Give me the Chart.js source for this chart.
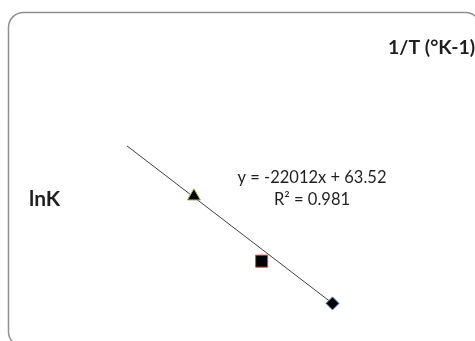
<!DOCTYPE html>
<html>
<head>
<meta charset="utf-8">
<script src="https://cdn.jsdelivr.net/npm/chart.js@4/dist/chart.umd.min.js"></script>
<style>
  html, body { margin: 0; padding: 0; background: #fff; overflow: hidden; }
  #wrap { position: relative; width: 475px; height: 341px; }
</style>
</head>
<body>
<div id="wrap"><canvas id="c" width="475" height="341"></canvas></div>
<script>
// Data (x = 1/T, y = lnK)
const seriesNames = ['Series 1', 'Series 2', 'Series 3'];
const invT = [0.002919, 0.003006, 0.003097];
const lnK = [-0.70, -3.10, -4.66];
const trendX = [0.002833, 0.003097];
const trendY = [1.16, -4.66];
const equationText = 'y = -22012x + 63.52';
const r2Text = 'R² = 0.981';
const yTitle = 'lnK';
const xTitle = '1/T (°K-1)';

const markerStyles = ['triangle', 'rect', 'rectRot'];
const markerBorders = ['#9BBB59', '#C0504D', '#4F81BD'];
const markerRadius = [7.5, 8.5, 6.5];

const datasets = invT.map((x, i) => ({
  label: seriesNames[i],
  data: [{ x: x, y: lnK[i] }],
  pointStyle: markerStyles[i],
  pointRadius: markerRadius[i],
  pointBackgroundColor: '#000000',
  pointBorderColor: markerBorders[i],
  pointBorderWidth: 1,
  showLine: false,
  order: 0
}));
datasets.push({
  label: 'Trend',
  data: trendX.map((x, i) => ({ x: x, y: trendY[i] })),
  showLine: true,
  borderColor: '#404040',
  borderWidth: 1,
  pointRadius: 0,
  order: 1
});

const framePlugin = {
  id: 'frame',
  beforeDraw(chart) {
    const ctx = chart.ctx;
    ctx.save();
    ctx.fillStyle = '#ffffff';
    ctx.fillRect(0, 0, chart.width, chart.height);
    ctx.beginPath();
    ctx.roundRect(8.5, 12.5, 472, 334, 15);
    ctx.strokeStyle = '#8f8f8f';
    ctx.lineWidth = 1.5;
    ctx.stroke();
    ctx.restore();
  },
  afterDatasetsDraw(chart) {
    const ctx = chart.ctx;
    ctx.save();
    ctx.fillStyle = '#1f1f1f';
    ctx.textBaseline = 'middle';
    ctx.font = '16.5px Lato';
    ctx.textAlign = 'center';
    ctx.fillText(equationText, 312, 178);
    ctx.fillText(r2Text, 312, 200);
    ctx.textAlign = 'left';
    ctx.font = 'bold 21px Lato';
    ctx.fillText(yTitle, 29, 199);
    ctx.font = 'bold 19.5px Lato';
    ctx.fillText(xTitle, 388, 48);
    ctx.restore();
  }
};

new Chart(document.getElementById('c'), {
  type: 'scatter',
  data: { datasets: datasets },
  options: {
    responsive: false,
    animation: false,
    devicePixelRatio: 1,
    layout: { padding: 0, autoPadding: false },
    plugins: { legend: { display: false }, tooltip: { enabled: false } },
    scales: {
      x: { type: 'linear', display: false, min: 0.00267, max: 0.00328 },
      y: { type: 'linear', display: false, min: -6.05, max: 6.55 }
    }
  },
  plugins: [framePlugin]
});
</script>
</body>
</html>
